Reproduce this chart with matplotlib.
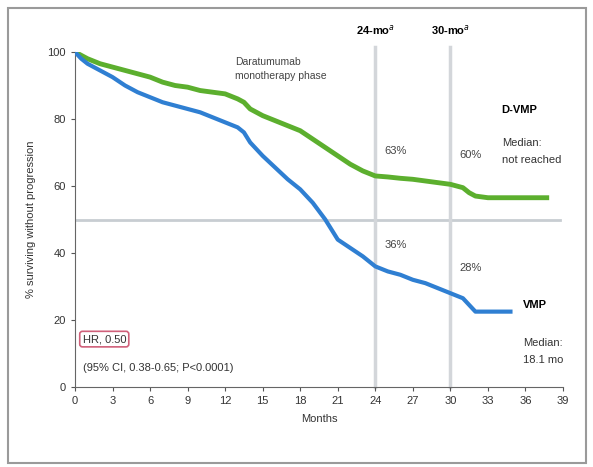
import matplotlib.pyplot as plt
from matplotlib.patches import Rectangle

plt.rcParams['font.family'] = ['Liberation Sans', 'DejaVu Sans']

# Kaplan-Meier curves (months, % surviving without progression)
dvmp_months = [0, 0.5, 1, 2, 3, 4, 5, 6, 7, 8, 9, 10, 11, 12, 13, 13.5, 14, 15, 16, 17,
               18, 19, 20, 21, 22, 23, 24, 25, 26, 27, 28, 29, 30, 31, 31.5, 32, 33, 37.7]
dvmp_pfs = [100, 99, 98, 96.5, 95.5, 94.5, 93.5, 92.5, 91, 90, 89.5, 88.5, 88, 87.5, 86, 85, 83,
            81, 79.5, 78, 76.5, 74, 71.5, 69, 66.5, 64.5, 63, 62.7, 62.3, 62, 61.5, 61, 60.5,
            59.5, 58, 57, 56.5, 56.5]

vmp_months = [0, 0.5, 1, 2, 3, 4, 5, 6, 7, 8, 9, 10, 11, 12, 13, 13.5, 14, 15, 16, 17, 18, 19,
              20, 21, 22, 23, 24, 25, 26, 27, 28, 29, 30, 31, 32, 34.8]
vmp_pfs = [100, 98, 96.5, 94.5, 92.5, 90, 88, 86.5, 85, 84, 83, 82, 80.5, 79, 77.5, 76, 73, 69,
           65.5, 62, 59, 55, 50, 44, 41.5, 39, 36, 34.5, 33.5, 32, 31, 29.5, 28, 26.5, 22.5, 22.5]

x_ticks = list(range(0, 40, 3))
y_ticks = [0, 20, 40, 60, 80, 100]

landmark_months = [24, 30]
landmark_labels = ["24-mo$^{a}$", "30-mo$^{a}$"]
dvmp_rates = ["63%", "60%"]
vmp_rates = ["36%", "28%"]

fig = plt.figure(figsize=(5.93, 4.67), dpi=100)
fig.patches.append(Rectangle((8 / 593, 4 / 467), 578 / 593, 455 / 467, transform=fig.transFigure,
                             fill=False, edgecolor='#9a9a9a', linewidth=1.5))
ax = fig.add_axes([75 / 593, 1 - 387 / 467, 488 / 593, 335 / 467])

# reference lines
ax.plot([0, 38.8], [50, 50], color='#c8cdd2', linewidth=2, zorder=1)
for m in landmark_months:
    ax.plot([m, m], [0, 101.5], color='#d3d6da', linewidth=2.5, zorder=1, clip_on=False)

ax.plot(dvmp_months, dvmp_pfs, color='#5caf2e', linewidth=3.5, zorder=3, solid_joinstyle='round')
ax.plot(vmp_months, vmp_pfs, color='#2f7fd2', linewidth=3, zorder=3, solid_joinstyle='round')

ax.set_xlim(0, 39)
ax.set_ylim(0, 100)
ax.set_xticks(x_ticks)
ax.set_yticks(y_ticks)
ax.tick_params(labelsize=8, length=3, color='#555555', labelcolor='#333333')
for side in ['top', 'right']:
    ax.spines[side].set_visible(False)
for side in ['left', 'bottom']:
    ax.spines[side].set_color('#666666')
ax.set_xlabel("Months", fontsize=8, color='#333333', labelpad=6)
ax.set_ylabel("% surviving without progression", fontsize=8, color='#333333', labelpad=8)

# landmark labels and rates
for m, lab, d, v in zip(landmark_months, landmark_labels, dvmp_rates, vmp_rates):
    ax.text(m, 106.5, lab, ha='center', va='center', fontsize=8, fontweight='bold', clip_on=False)
    ax.text(m + 1.6, 70.5 if m == 24 else 69.3, d, ha='center', va='center', fontsize=8, color='#444444')
    ax.text(m + 1.6, 42.4 if m == 24 else 35.5, v, ha='center', va='center', fontsize=8, color='#444444')

ax.text(12.8, 98.5, "Daratumumab\nmonotherapy phase", ha='left', va='top', fontsize=7.5,
        color='#444444', linespacing=1.5)

ax.text(34.1, 82.7, "D-VMP", ha='left', va='center', fontsize=8, fontweight='bold')
ax.text(34.1, 66.3, "Median:\nnot reached", ha='left', va='bottom', fontsize=8,
        color='#333333', linespacing=1.9)
ax.text(35.8, 24.5, "VMP", ha='left', va='center', fontsize=8, fontweight='bold')
ax.text(35.8, 6.6, "Median:\n18.1 mo", ha='left', va='bottom', fontsize=8,
        color='#333333', linespacing=1.9)

ax.text(0.6, 14.3, "HR, 0.50", ha='left', va='center', fontsize=8, color='#333333',
        bbox=dict(boxstyle='round,pad=0.25', facecolor='white', edgecolor='#d0607a', linewidth=1.2))
ax.text(0.6, 5.7, "(95% CI, 0.38-0.65; P<0.0001)", ha='left', va='center', fontsize=8,
        color='#333333')

fig.savefig("out.png", dpi=100)
